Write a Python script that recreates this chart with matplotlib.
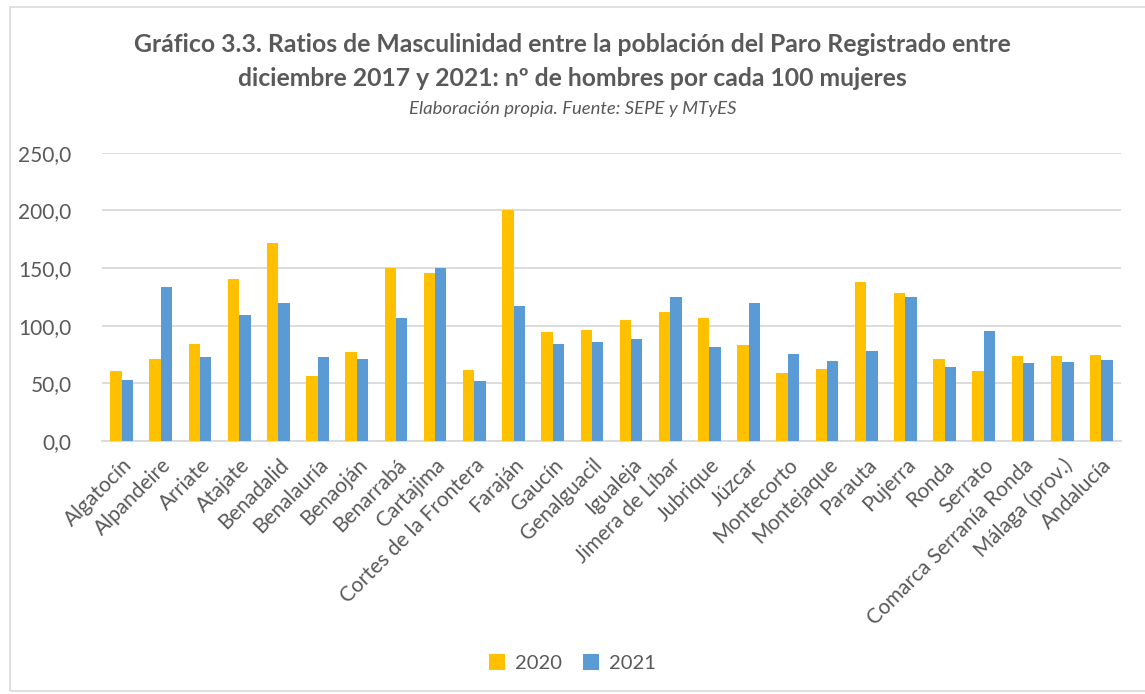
import numpy as np
import matplotlib
matplotlib.use('Agg')
import matplotlib.pyplot as plt
from matplotlib.patches import Rectangle

plt.rcParams['font.family'] = ['Lato', 'DejaVu Sans']

municipios = ['Algatocín', 'Alpandeire', 'Arriate', 'Atajate', 'Benadalid', 'Benalauría',
              'Benaoján', 'Benarrabá', 'Cartajima', 'Cortes de la Frontera', 'Faraján',
              'Gaucín', 'Genalguacil', 'Igualeja', 'Jimera de Líbar', 'Jubrique', 'Júzcar',
              'Montecorto', 'Montejaque', 'Parauta', 'Pujerra', 'Ronda', 'Serrato',
              'Comarca Serranía Ronda', 'Málaga (prov.)', 'Andalucía']
ratio_2020 = [61.0, 71.1, 84.1, 140.2, 171.4, 56.6, 77.2, 150.0, 145.7, 61.6, 200.0,
              94.5, 96.2, 104.9, 111.8, 106.9, 82.9, 58.7, 62.7, 137.6, 128.6, 70.8,
              60.4, 73.7, 73.7, 74.6]
ratio_2021 = [52.9, 133.5, 73.1, 109.0, 119.9, 72.5, 70.8, 106.6, 150.0, 52.3, 116.8,
              84.1, 85.8, 88.4, 124.9, 81.5, 119.9, 75.4, 69.4, 77.7, 124.9, 64.5,
              95.7, 67.3, 68.5, 70.2]
yticks = [0, 50, 100, 150, 200, 250]

gris = '#595959'
amarillo = '#FFC000'
azul = '#5B9BD5'

fig = plt.figure(figsize=(11.45, 6.94), dpi=100)
ax = fig.add_axes([0.0891, 0.3646, 0.8899, 0.4154])

# marco exterior del gráfico
fig.patches.append(Rectangle((10 / 1145, 0.005), 1.2, 0.985, transform=fig.transFigure,
                             fill=False, edgecolor='#D9D9D9', linewidth=1.2))

x = np.arange(len(municipios))
w = 0.29
ax.bar(x - w / 2, ratio_2020, w, color=amarillo, label='2020', zorder=3)
ax.bar(x + w / 2, ratio_2021, w, color=azul, label='2021', zorder=3)

ax.set_xlim(-0.5, len(municipios) - 0.5)
ax.set_ylim(0, 250)
ax.set_yticks(yticks)
ax.set_yticklabels([f'{v:.1f}'.replace('.', ',') for v in yticks], fontsize=15, color=gris)
ax.set_xticks(x)
ax.set_xticklabels(municipios, rotation=45, ha='right', rotation_mode='anchor',
                   fontsize=15, color=gris)
ax.tick_params(axis='y', length=0, pad=22)
ax.tick_params(axis='x', length=0, pad=10)
ax.grid(axis='y', color='#D9D9D9', linewidth=1.3, zorder=0)
for s in ['top', 'right', 'left']:
    ax.spines[s].set_visible(False)
ax.spines['bottom'].set_color('#D9D9D9')
ax.spines['bottom'].set_linewidth(1.3)

fig.text(0.5, 1 - 45 / 694, 'Gráfico 3.3. Ratios de Masculinidad entre la población del Paro Registrado entre',
         ha='center', va='center', fontsize=17.8, fontweight='bold', color=gris)
fig.text(0.5, 1 - 78 / 694, 'diciembre 2017 y 2021: nº de hombres por cada 100 mujeres',
         ha='center', va='center', fontsize=17.8, fontweight='bold', color=gris)
fig.text(0.5, 1 - 109 / 694, 'Elaboración propia. Fuente: SEPE y MTyES',
         ha='center', va='center', fontsize=13.3, style='italic', color=gris)

leg = fig.legend(loc='center', bbox_to_anchor=(0.5, 1 - 663 / 694), ncol=2, frameon=False,
                 fontsize=14.5, handlelength=0.8, handleheight=0.8, columnspacing=1.0,
                 handletextpad=0.5)
for t in leg.get_texts():
    t.set_color(gris)

fig.savefig('out.png', dpi=100)
